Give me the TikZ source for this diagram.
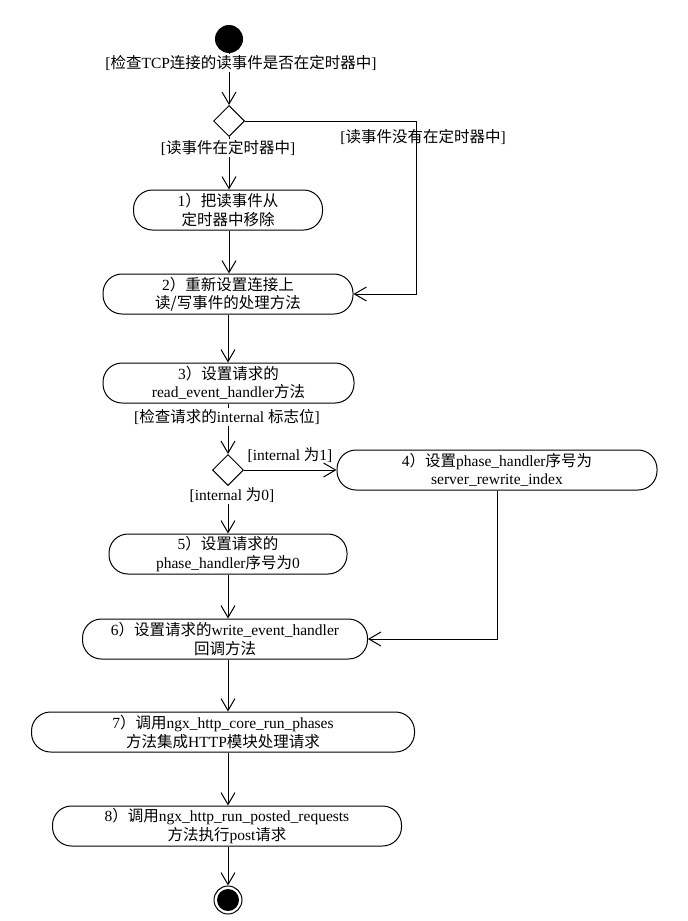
\documentclass[tikz,border=0pt]{standalone}
\usepackage{fontspec}
\setmainfont{Liberation Serif}
\newfontfamily\cjk{Noto Sans CJK SC}
\usetikzlibrary{arrows.meta,shapes.geometric}
\newcommand\zh[1]{{\cjk #1}}
\begin{document}
\begin{tikzpicture}[x=1pt,y=-1pt,
  every node/.style={font=\fontsize{15.5}{18.5}\selectfont},
  act/.style={draw,line width=1pt,rounded corners=19pt,minimum height=40pt,align=center,inner sep=2pt},
  dec/.style={draw,diamond,line width=1pt,minimum width=31pt,minimum height=31pt,inner sep=0pt,aspect=1},
  lbl/.style={inner sep=1pt},
  flow/.style={line width=1pt,-{Straight Barb[length=12pt,width=14pt]}}
]
\useasboundingbox (0,0) rectangle (688,921);
\coordinate (col) at (228,0);

\node[circle,fill,minimum size=28pt,inner sep=0pt] (start) at (229,39) {};
\node[dec] (d1) at (229,121) {};
\node[act,minimum width=189pt] (b1) at (228,210) {1\zh{）把读事件从}\\\zh{定时器中移除}};
\node[act,minimum width=250pt] (b2) at (228,294) {2\zh{）重新设置连接上}\\\zh{读/写事件的处理方法}};
\node[act,minimum width=251pt] (b3) at (228.5,383) {3\zh{）设置请求的}\\read\_event\_handler\zh{方法}};
\node[dec] (d2) at (228,470) {};
\node[act,minimum width=320pt] (b4) at (497,470) {4\zh{）设置}phase\_handler\zh{序号为}\\server\_rewrite\_index};
\node[act,minimum width=238pt] (b5) at (228,554) {5\zh{）设置请求的}\\phase\_handler\zh{序号为}0};
\node[act,minimum width=285pt] (b6) at (225,639) {6\zh{）设置请求的}write\_event\_handler\\\zh{回调方法}};
\node[act,minimum width=383pt] (b7) at (223,732) {7\zh{）调用}ngx\_http\_core\_run\_phases\\\zh{方法集成}HTTP\zh{模块处理请求}};
\node[act,minimum width=349pt] (b8) at (227,826) {8\zh{）调用}ngx\_http\_run\_posted\_requests\\\zh{方法执行}post\zh{请求}};
\node[circle,draw,line width=1pt,minimum size=28pt,inner sep=0pt] (end) at (228,900) {};
\fill (end.center) circle (11);

\coordinate (c1) at (416,121);
\draw[flow] (start) -- (d1);
\draw[flow] (d1) -- (b1.north -| d1);
\draw[flow] (d1.east) -- (c1) |- (b2.east);
\draw[flow] (b1.south -| d1) -- (b2.north -| d1);
\draw[flow] (b2.south -| col) -- (b3.north -| col);
\draw[flow] (b3.south -| col) -- (d2);
\draw[flow] (d2.east) -- (d2.east -| b4.west);
\draw[flow] (d2) -- (b5.north -| col);
\draw[flow] (b4.south) |- (b6.east);
\draw[flow] (b5.south -| col) -- (b6.north -| col);
\draw[flow] (b6.south -| col) -- (b7.north -| col);
\draw[flow] (b7.south -| col) -- (b8.north -| col);
\draw[flow] (b8.south -| col) -- (end);

\node[lbl,fill=white] at (241,63) {[\zh{检查}TCP\zh{连接的读事件是否在定时器中}]};
\node[lbl,fill=white] at (228,148) {[\zh{读事件在定时器中}]};
\node[lbl] at (423,137) {[\zh{读事件没有在定时器中}]};
\node[lbl,fill=white] at (227,417) {[\zh{检查请求的}internal \zh{标志位}]};
\node[lbl] at (290,455) {[internal \zh{为}1]};
\node[lbl,fill=white] at (232,495) {[internal \zh{为}0]};
\end{tikzpicture}
\end{document}
